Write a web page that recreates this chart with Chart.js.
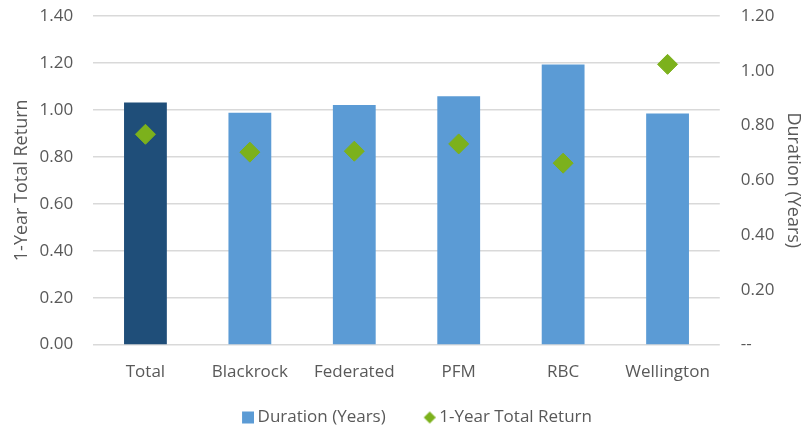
<!DOCTYPE html>
<html>
<head>
<meta charset="utf-8">
<script src="https://cdn.jsdelivr.net/npm/chart.js@4"></script>
<style>
  html, body { margin: 0; padding: 0; background: #fff; }
  #wrap { width: 804px; height: 430px; }
</style>
</head>
<body>
<div id="wrap"><canvas id="chart" width="804" height="430"></canvas></div>
<script>
// chart data
const managers = ['Total', 'Blackrock', 'Federated', 'PFM', 'RBC', 'Wellington'];
const durationYears = [0.884, 0.847, 0.875, 0.907, 1.023, 0.844];
const totalReturn = [0.896, 0.820, 0.824, 0.855, 0.773, 1.194];
const barColors = ['#1F4E79', '#5B9BD5', '#5B9BD5', '#5B9BD5', '#5B9BD5', '#5B9BD5'];

const textColor = '#595959';
const gridColor = '#D9D9D9';
const greenColor = '#7CB11C';
const fontFamily = '"Open Sans", "Liberation Sans", sans-serif';

// small legend markers (square for bars, diamond for the return points)
// drawn at the right end of a wider image so the legend items get more room between them
function legendMarker(kind, color) {
  const c = document.createElement('canvas');
  c.width = 37;
  c.height = 14;
  const g = c.getContext('2d');
  g.fillStyle = color;
  if (kind === 'square') {
    g.fillRect(25, 1, 12, 12);
  } else {
    g.beginPath();
    g.moveTo(31, 1);
    g.lineTo(37, 7);
    g.lineTo(31, 13);
    g.lineTo(25, 7);
    g.closePath();
    g.fill();
  }
  return c;
}
const squareMarker = legendMarker('square', '#5B9BD5');
const diamondMarker = legendMarker('diamond', greenColor);

const ctx = document.getElementById('chart');
new Chart(ctx, {
  type: 'bar',
  data: {
    labels: managers,
    datasets: [
      {
        type: 'bar',
        label: 'Duration (Years)',
        data: durationYears,
        backgroundColor: barColors,
        yAxisID: 'yRight',
        categoryPercentage: 1.0,
        barPercentage: 0.41,
        order: 2
      },
      {
        type: 'line',
        label: '1-Year Total Return',
        data: totalReturn,
        yAxisID: 'yLeft',
        showLine: false,
        pointStyle: 'rectRot',
        pointRadius: 10,
        pointHoverRadius: 10,
        pointBackgroundColor: greenColor,
        pointBorderColor: greenColor,
        backgroundColor: greenColor,
        borderColor: greenColor,
        clip: false,
        order: 1
      }
    ]
  },
  options: {
    responsive: false,
    animation: false,
    layout: { autoPadding: false, padding: { left: 10, right: 0, top: 16, bottom: 0 } },
    plugins: {
      legend: {
        position: 'bottom',
        maxHeight: 39,
        labels: {
          usePointStyle: true,
          pointStyleWidth: 27,
          color: textColor,
          padding: 18,
          font: { family: fontFamily, size: 17 },
          sort: (a, b) => a.datasetIndex - b.datasetIndex,
          generateLabels: chart => {
            const items = Chart.defaults.plugins.legend.labels.generateLabels(chart);
            items.forEach(item => {
              item.pointStyle = item.datasetIndex === 0 ? squareMarker : diamondMarker;
            });
            return items;
          }
        }
      },
      tooltip: { enabled: false }
    },
    scales: {
      x: {
        grid: { display: false },
        border: { display: false },
        ticks: { color: textColor, font: { family: fontFamily, size: 17 }, padding: 9 }
      },
      yLeft: {
        position: 'left',
        min: 0,
        max: 1.4,
        ticks: {
          stepSize: 0.2,
          color: textColor,
          padding: 2,
          font: { family: fontFamily, size: 17 },
          callback: v => Number(v).toFixed(2)
        },
        grid: { color: gridColor, lineWidth: 1.5, drawTicks: true, tickLength: 18, tickColor: 'rgba(0,0,0,0)' },
        border: { display: false },
        title: {
          display: true,
          text: '1-Year Total Return',
          color: textColor,
          font: { family: fontFamily, size: 18 },
          padding: { top: 1, bottom: 5 }
        }
      },
      yRight: {
        position: 'right',
        min: 0,
        max: 1.2,
        ticks: {
          stepSize: 0.2,
          color: textColor,
          padding: 2,
          font: { family: fontFamily, size: 17 },
          callback: v => (Math.abs(v) < 1e-9 ? '--' : Number(v).toFixed(2))
        },
        grid: { display: false, drawTicks: true, tickLength: 19 },
        border: { display: false },
        title: {
          display: true,
          text: 'Duration (Years)',
          color: textColor,
          font: { family: fontFamily, size: 18 },
          padding: { top: 0, bottom: 6 }
        }
      }
    }
  }
});
</script>
</body>
</html>
